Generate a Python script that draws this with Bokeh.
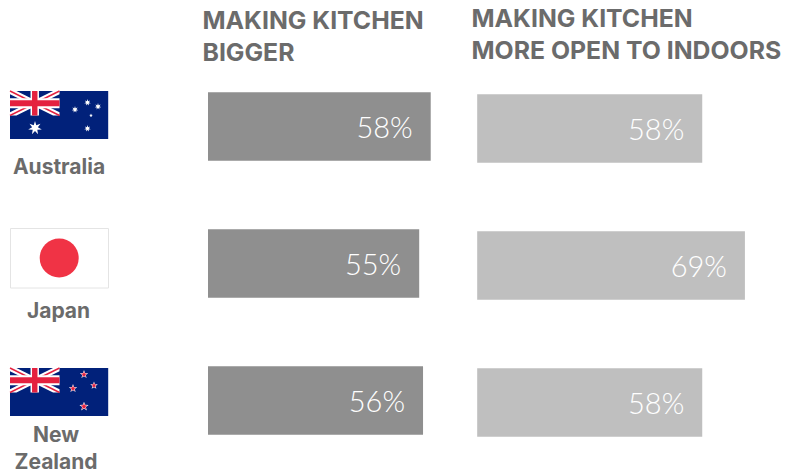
import math

from bokeh.core.properties import value
from bokeh.embed import file_html
from bokeh.models import ColumnDataSource, Range1d
from bokeh.plotting import figure
from bokeh.resources import INLINE

countries = ["Australia", "Japan", "New\nZealand"]
making_bigger = [58, 55, 56]
more_open = [58, 69, 58]
column_titles = ["MAKING KITCHEN\nBIGGER", "MAKING KITCHEN\nMORE OPEN TO INDOORS"]

W, H = 794, 472
HEAD_FONT = "Inter"
VALUE_FONT = "Lato Light"
TEXT_GREY = "#6b6b6b"
NAVY = "#01217a"
RED = "#e4213f"

p = figure(width=W, height=H, output_backend="svg", toolbar_location=None,
           x_range=Range1d(0, W), y_range=Range1d(H, 0),
           x_axis_type=None, y_axis_type=None, min_border=0,
           outline_line_color=None, background_fill_color="white")
p.grid.visible = False


def percent_range(origin_px, px_per_point):
    """Horizontal range in percent whose zero falls on a given pixel column."""
    return Range1d(-origin_px / px_per_point, (W - origin_px) / px_per_point)


p.extra_x_ranges = {"bigger": percent_range(207.5, 3.84), "open": percent_range(476.7, 3.88)}


def bars(values, range_name, tops, height, colour):
    src = ColumnDataSource(dict(
        right=values, top=tops, bottom=[t + height for t in tops],
        label=[f"{v}%" for v in values],
        mid=[t + height / 2 for t in tops]))
    p.quad(left=0, right="right", top="top", bottom="bottom", source=src,
           x_range_name=range_name, fill_color=colour, line_color=None)
    p.text(x="right", y="mid", text="label", source=src, x_range_name=range_name,
           x_offset=-18, text_align="right", text_baseline="middle",
           text_color="white", text_font=value(VALUE_FONT), text_font_size="29px")


bars(making_bigger, "bigger", [91.7, 228.7, 365.7], 68.5, "#8f8f8f")
bars(more_open, "open", [93.7, 230.7, 367.7], 68.5, "#bfbfbf")


def multiline(x, y, string, size, leading, align="left", colour=TEXT_GREY):
    for i, line in enumerate(string.split("\n")):
        p.text(x=[x], y=[y + i * leading], text=[line], text_align=align,
               text_baseline="middle", text_color=colour,
               text_font=value(HEAD_FONT), text_font_style="bold",
               text_font_size=size)


multiline(202, 19.5, column_titles[0], "24.8px", 32)
multiline(471, 17, column_titles[1], "24.8px", 32)
multiline(58.5, 165.5, countries[0], "21px", 27, "center")
multiline(58, 309.5, countries[1], "21px", 27, "center")
multiline(55.5, 434, countries[2], "21px", 26.5, "center")


def star(cx, cy, r, points=7, inner=0.45):
    xs, ys = [], []
    for k in range(points * 2):
        a = -math.pi / 2 + k * math.pi / points
        rad = r if k % 2 == 0 else r * inner
        xs.append(cx + rad * math.cos(a))
        ys.append(cy + rad * math.sin(a))
    return xs, ys


def union_jack(x0, y0, w, h):
    """Draw the canton with its saltires and cross, kept inside the rectangle."""
    x1, y1 = x0 + w, y0 + h
    dx, dy = w * 0.13, h * 0.13
    p.patch([x0, x0 + dx, x1, x1, x1 - dx, x0], [y0, y0, y1 - dy, y1, y1, y0 + dy],
            color="white", line_color=None)
    p.patch([x1, x1, x0 + dx, x0, x0, x1 - dx], [y0, y0 + dy, y1, y1, y1 - dy, y0],
            color="white", line_color=None)
    p.segment(x0=[x0, x1], y0=[y0, y0], x1=[x1, x0], y1=[y1, y1],
              line_color=RED, line_width=1.4)
    cx, cy = x0 + w / 2, y0 + h / 2
    p.quad(left=cx - w * 0.085, right=cx + w * 0.085, top=y0, bottom=y1,
           color="white", line_color=None)
    p.quad(left=x0, right=x1, top=cy - h * 0.2, bottom=cy + h * 0.2,
           color="white", line_color=None)
    p.quad(left=cx - w * 0.055, right=cx + w * 0.055, top=y0, bottom=y1,
           color=RED, line_color=None)
    p.quad(left=x0, right=x1, top=cy - h * 0.125, bottom=cy + h * 0.125,
           color=RED, line_color=None)


def ensign(y0, stars):
    p.quad(left=9.5, right=107.7, top=y0, bottom=y0 + 48, color=NAVY, line_color=None)
    union_jack(9.5, y0, 49.5, 24.5)
    for cx, cy, r, n, fill, centre in stars:
        sx, sy = star(cx, cy + y0, r, n, 0.42)
        p.patch(sx, sy, color=fill, line_color=None)
        if centre:
            sx, sy = star(cx, cy + y0, r * 0.72, n, 0.42)
            p.patch(sx, sy, color=centre, line_color=None)


# Australia: Commonwealth star and Southern Cross
ensign(90.5, [(34.5, 37, 7, 7, "white", None), (74.5, 18.5, 3.4, 7, "white", None),
              (87, 11.5, 3.4, 7, "white", None), (97.5, 15.5, 3.4, 7, "white", None),
              (90.5, 24.5, 1.9, 5, "white", None), (87, 37.5, 3.4, 7, "white", None)])

# Japan: white field with a red disc
p.quad(left=10, right=108, top=228, bottom=287.5, fill_color="white",
       line_color="#e4e4e4", line_width=1)
p.circle(x=[58.7], y=[257.5], radius=19.5, color="#f03345", line_color=None)

# New Zealand: red stars with a white edge
ensign(367.5, [(72.5, 20.5, 4.4, 5, "white", RED), (83.5, 6.5, 4.4, 5, "white", RED),
               (93.5, 17.5, 4, 5, "white", RED), (83.5, 38.5, 4.8, 5, "white", RED)])

open("out.html", "w").write(file_html(p, INLINE))
